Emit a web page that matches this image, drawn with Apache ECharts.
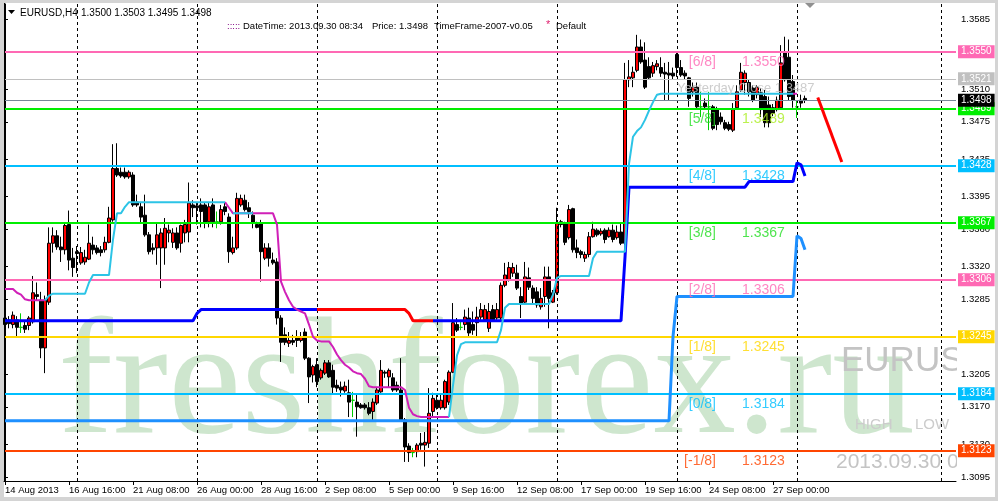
<!DOCTYPE html>
<html><head><meta charset="utf-8">
<script src="https://cdn.jsdelivr.net/npm/echarts@6/dist/echarts.min.js"></script>
<style>html,body{margin:0;padding:0;background:#fff}#c{width:998px;height:501px}</style>
</head><body><div id="c"></div>
<script>
// prices are stored in units of 0.0001 (pips)
const UNIT = 10000;
const opens = [13265,13263,13258,13263,13255,13257,13257,13261,13290,13284,
13233,13282,13345,13353,13341,13338,13365,13329,13336,13324,
13325,13328,13343,13340,13338,13338,13346,13370,13425,13421,
13421,13416,13418,13389,13384,13375,13354,13340,13340,13340,
13340,13356,13346,13356,13345,13356,13357,13386,13385,13386,
13386,13368,13386,13368,13368,13384,13373,13335,13340,13386,
13391,13383,13375,13365,13367,13329,13340,13327,13325,13265,
13247,13238,13241,13245,13241,13250,13222,13204,13215,13201,
13206,13217,13209,13193,13191,13187,13185,13177,13175,13172,
13172,13169,13165,13174,13186,13207,13202,13201,13193,13188,
13156,13128,13121,13122,13131,13129,13131,13165,13177,13169,
13169,13175,13207,13258,13255,13258,13265,13258,13260,13266,
13263,13254,13274,13265,13265,13300,13306,13313,13313,13288,
13282,13308,13297,13293,13277,13288,13309,13282,13292,13368,
13367,13351,13382,13340,13336,13329,13333,13352,13359,13355,
13359,13352,13359,13351,13357,13345,13520,13522,13530,13555,
13541,13534,13527,13534,13533,13528,13527,13527,13547,13533,
13527,13522,13507,13512,13491,13495,13491,13491,13488,13480,
13474,13472,13466,13490,13509,13517,13517,13511,13504,13506,
13502,13493,13490,13488,13490,13549,13544,13518,13491,13498,
13500];
const highs = [13268,13267,13272,13267,13270,13261,13267,13310,13303,13293,
13289,13362,13362,13359,13352,13367,13380,13340,13342,13341,
13338,13365,13352,13343,13342,13352,13384,13451,13452,13426,
13426,13423,13421,13397,13389,13397,13357,13345,13367,13361,
13372,13365,13361,13362,13365,13370,13410,13391,13389,13393,
13389,13388,13393,13379,13386,13389,13377,13352,13399,13397,
13397,13389,13379,13368,13370,13345,13345,13335,13329,13268,
13255,13250,13247,13252,13250,13254,13223,13215,13222,13211,
13220,13220,13215,13199,13197,13197,13199,13186,13183,13174,
13174,13175,13179,13191,13220,13209,13211,13206,13197,13222,
13158,13131,13126,13131,13142,13143,13190,13185,13183,13183,
13199,13209,13281,13265,13263,13274,13276,13272,13277,13281,
13279,13281,13279,13281,13303,13324,13325,13324,13322,13298,
13325,13319,13300,13298,13297,13320,13320,13295,13383,13370,
13368,13386,13383,13349,13338,13336,13357,13368,13361,13361,
13361,13362,13365,13364,13367,13538,13541,13534,13568,13563,
13560,13544,13539,13541,13544,13538,13539,13533,13549,13541,
13530,13523,13517,13517,13507,13500,13507,13493,13491,13485,
13477,13475,13495,13514,13538,13530,13520,13514,13514,13511,
13509,13502,13494,13502,13557,13566,13563,13525,13498,13504,
13503];
const lows = [13254,13254,13254,13244,13249,13249,13252,13259,13284,13222,
13206,13279,13335,13338,13325,13333,13316,13309,13313,13322,
13322,13327,13333,13333,13331,13335,13345,13368,13416,13415,
13414,13414,13384,13384,13367,13352,13333,13333,13322,13297,
13322,13346,13340,13338,13335,13346,13346,13373,13365,13362,
13361,13362,13362,13361,13365,13375,13324,13333,13338,13384,
13379,13372,13361,13361,13304,13327,13320,13322,13258,13218,
13236,13234,13236,13234,13239,13220,13174,13196,13191,13199,
13204,13201,13183,13186,13181,13185,13159,13159,13138,13168,
13167,13161,13156,13172,13185,13201,13191,13186,13186,13154,
13111,13111,13116,13116,13124,13106,13126,13159,13167,13167,
13167,13172,13206,13250,13252,13252,13245,13247,13245,13263,
13261,13250,13261,13263,13263,13298,13304,13309,13295,13265,
13281,13295,13279,13276,13274,13277,13254,13281,13290,13362,
13343,13349,13335,13329,13329,13325,13330,13351,13352,13353,
13345,13351,13346,13349,13343,13343,13512,13512,13528,13537,
13510,13520,13523,13530,13523,13498,13498,13520,13523,13523,
13520,13491,13502,13488,13480,13488,13466,13466,13466,13472,
13466,13465,13464,13488,13507,13504,13502,13496,13500,13480,
13469,13469,13481,13486,13488,13518,13498,13490,13479,13490,
13495];
const closes = [13258,13259,13268,13255,13255,13253,13265,13292,13288,13233,
13284,13345,13353,13341,13338,13364,13327,13319,13334,13335,
13330,13345,13338,13335,13335,13346,13372,13425,13418,13417,
13416,13421,13386,13386,13373,13354,13336,13338,13354,13356,
13361,13359,13356,13340,13364,13365,13388,13383,13383,13379,
13367,13384,13368,13368,13381,13379,13336,13340,13393,13393,
13381,13379,13367,13362,13336,13340,13329,13324,13265,13239,
13239,13241,13239,13241,13245,13222,13202,13213,13197,13209,
13217,13202,13191,13190,13188,13192,13175,13177,13170,13169,
13169,13163,13175,13188,13209,13206,13209,13188,13188,13156,
13127,13121,13121,13129,13129,13132,13163,13179,13169,13177,
13197,13207,13260,13252,13255,13266,13249,13252,13266,13274,
13274,13272,13263,13274,13300,13311,13319,13319,13297,13281,
13309,13298,13286,13279,13286,13309,13286,13292,13367,13365,
13346,13381,13338,13335,13333,13333,13352,13360,13354,13358,
13349,13359,13349,13357,13345,13520,13523,13528,13555,13539,
13512,13522,13535,13537,13527,13526,13525,13524,13533,13525,
13524,13500,13512,13491,13491,13491,13491,13468,13472,13475,
13468,13467,13488,13507,13528,13527,13507,13498,13512,13488,
13474,13474,13484,13498,13538,13520,13502,13498,13491,13495,
13498];

// x-axis ticks (bar index) and their labels
const xTickBars = [0,16,32,48,64,80,96,112,128,144,160,176,192];
const xTickLabels = ['14 Aug 2013','16 Aug 16:00','21 Aug 08:00','26 Aug 00:00','28 Aug 16:00','2 Sep 08:00','5 Sep 00:00','9 Sep 16:00','12 Sep 08:00','17 Sep 00:00','19 Sep 16:00','24 Sep 08:00','27 Sep 00:00'];
const yTicks = [1.3095,1.3130,1.3170,1.3205,1.3245,1.3285,1.3320,1.3360,1.3395,1.3435,1.3475,1.3510,1.3550,1.3585];
const gridBars = [18,48,78,108,138,168,198,234];

// Murrey Math levels
const murreyNames = ['[-1/8]','[0/8]','[1/8]','[2/8]','[3/8]','[4/8]','[5/8]','[6/8]'];
const murreyLevels = [1.3123,1.3184,1.3245,1.3306,1.3367,1.3428,1.3489,1.3550];
const yesterdayLevel = 1.3521;
const bidPrice = 1.3498;

// indicator lines: [bar index, price in pips]
const trendBlue = [[0,13262],[47,13262],[48,13270],[49,13274],[78,13274],[90,null],[107,13262],[154,13262],[155,13330],[156,13405],[185,13405],[186,13411],[197,13411],[198,13431],[199,13429],[200,13417]];
const trendRed = [[78,13274],[100,13274],[101,13270],[102,13262],[107,13262]];
const trendDodger = [[0,13155],[166,13155],[167,13245],[168,13288],[197,13288],[198,13353],[199,13350],[200,13338]];
const trailUp = [[10,13284],[11,13289],[12,13291],[20,13291],[21,13303],[22,13311],[26,13311],[27,13349],[28,13377],[29,13377],[30,13384],[31,13389],[55,13389],[56,null],
[57,13377],[62,13377],[80,null],
[111,13159],[112,13193],[113,13225],[114,13237],[115,13239],[123,13239],[124,13252],[125,13276],[126,13280],[136,13280],[137,13290],[138,13308],[139,13310],[146,13310],[147,13329],[148,13336],[155,13336],[156,13430],[157,13459],[158,13465],[159,13469],[160,13477],[161,13487],[162,13496],[163,13504],[164,13505],[197,13505]];
const trailDn = [[0,13296],[2,13296],[3,13292],[4,13290],[5,13285],[6,13284],[10,13284],[30,null],
[55,13389],[56,13383],[57,13377],[67,13377],[68,13365],[69,13304],[70,13293],[71,13284],[72,13277],[73,13274],[74,13272],[75,13270],[76,13258],[77,13245],[78,13241],[79,13240],[81,13240],[82,13234],[83,13226],[84,13220],[85,13215],[86,13212],[87,13208],[88,13206],[89,13205],[90,13200],[91,13192],[92,13191],[99,13191],[100,13188],[101,13169],[102,13162],[103,13160],[104,13159],[111,13159],[150,null],
[197,13505],[198,13505]];
const projection = [[203.2,13501],[209.2,13432]];

const murreyLineColors = ['#ff4500','#00bfff','#ffd700','#ff69b4','#00ee00','#00bfff','#00ee00','#ff69b4'];
const murreyNameColors = ['#ff4500','#00bfff','#ffd700','#ff69b4','#22dd22','#00bfff','#22dd22','#ff69b4'];
const murreyNumColors = ['#ff4500','#00bfff','#ffd700','#ff69b4','#22dd22','#00bfff','#aaee22','#ff69b4'];

const SANS = 'Liberation Sans';
const toPts = arr => arr.map(p => [p[0], p[1] == null ? '-' : p[1] / UNIT]);

const chart = echarts.init(document.getElementById('c'), null, {renderer: 'canvas'});

const candleData = opens.map((o, i) => [i, o / UNIT, closes[i] / UNIT, lows[i] / UNIT, highs[i] / UNIT]);

const hLines = murreyLevels.map((v, k) => ({
  yAxis: v,
  lineStyle: {color: murreyLineColors[k], width: 2, type: 'solid'},
  label: {backgroundColor: murreyLineColors[k]}
}));
hLines.push({yAxis: yesterdayLevel, lineStyle: {color: '#c0c0c0', width: 1, type: 'solid'}, label: {backgroundColor: '#c0c0c0'}});
hLines.push({yAxis: bidPrice, lineStyle: {color: '#778899', width: 1, type: 'solid'}, label: {backgroundColor: '#000000'}});

const option = {
  animation: false,
  backgroundColor: '#ffffff',
  textStyle: {fontFamily: SANS},
  grid: {left: 4, right: 42, top: 4, bottom: 20, containLabel: false},
  xAxis: {
    type: 'value', min: -0.25, max: 237.75,
    axisLine: {show: true, lineStyle: {color: '#000', width: 1}},
    axisTick: {show: true, customValues: xTickBars, length: 4, inside: false, lineStyle: {color: '#000'}},
    axisLabel: {show: true, customValues: xTickBars, align: 'left', margin: 4, fontSize: 9.5, color: '#000', fontFamily: SANS,
      formatter: v => { const k = xTickBars.indexOf(Math.round(v)); return k >= 0 ? xTickLabels[k] : ''; }},
    splitLine: {show: false}
  },
  yAxis: {
    type: 'value', position: 'right', min: 1.30906, max: 1.3601, scale: true,
    axisLine: {show: true, lineStyle: {color: '#000', width: 1}},
    axisTick: {show: true, customValues: yTicks, length: 3, lineStyle: {color: '#000'}},
    axisLabel: {show: true, customValues: yTicks, margin: 5, fontSize: 9.5, color: '#000', fontFamily: SANS,
      formatter: v => v.toFixed(4)},
    splitLine: {show: false}
  },
  series: [
    { // vertical grid
      type: 'line', data: [], silent: true, z: 1,
      markLine: {silent: true, symbol: ['none', 'none'], animation: false, precision: 4,
        lineStyle: {color: '#000', width: 1, type: [3, 3]}, label: {show: false},
        data: gridBars.map(b => ({xAxis: b}))}
    },
    {
      type: 'candlestick', data: candleData, barWidth: 3, silent: true, z: 2,
      itemStyle: {color: '#ff0000', color0: '#000000', borderColor: '#000000', borderColor0: '#000000', borderColorDoji: '#00cc00', borderWidth: 1}
    },
    { // Murrey / price lines
      type: 'line', data: [], silent: true, z: 3,
      markLine: {silent: true, symbol: ['none', 'none'], animation: false, precision: 4,
        label: {show: true, position: 'end', distance: 2, color: '#fff', fontSize: 10, fontFamily: SANS,
          padding: [2, 3, 1, 3], formatter: p => Number(p.value).toFixed(4)},
        data: hLines}
    },
    { type: 'line', data: toPts(trendBlue), symbol: 'none', z: 5, silent: true, lineStyle: {color: '#0000ff', width: 3}, connectNulls: false },
    { type: 'line', data: toPts(trendRed), symbol: 'none', z: 5, silent: true, lineStyle: {color: '#ff0000', width: 3} },
    { type: 'line', data: toPts(trendDodger), symbol: 'none', z: 5, silent: true, lineStyle: {color: '#1e90ff', width: 3} },
    { type: 'line', data: toPts(trailDn), symbol: 'none', z: 5, silent: true, lineStyle: {color: '#d020b8', width: 2} },
    { type: 'line', data: toPts(trailUp), symbol: 'none', z: 5, silent: true, lineStyle: {color: '#2cc4e6', width: 2} },
    { type: 'line', data: toPts(projection), symbol: 'none', z: 5, silent: true, lineStyle: {color: '#ff0000', width: 3} },
    { // Murrey names
      type: 'scatter', symbolSize: 0, silent: true, z: 6,
      data: murreyLevels.map((v, k) => ({value: [177.75, v], label: {formatter: murreyNames[k], color: murreyNameColors[k]}})),
      label: {show: true, position: 'left', distance: 0, offset: [0, 10], fontSize: 14, fontFamily: SANS}
    },
    { // Murrey values
      type: 'scatter', symbolSize: 0, silent: true, z: 6,
      data: murreyLevels.map((v, k) => ({value: [184.25, v], label: {formatter: v.toFixed(4), color: murreyNumColors[k]}})),
      label: {show: true, position: 'right', distance: 0, offset: [0, 10], fontSize: 14, fontFamily: SANS}
    },
    { // yesterday close caption
      type: 'scatter', symbolSize: 0, silent: true, z: 6,
      data: [{value: [168, yesterdayLevel]}],
      label: {show: true, position: 'right', distance: 0, offset: [0, 10], fontSize: 13, fontFamily: SANS, color: '#c0c0c0',
        formatter: 'Yesterday Close 1.3487'}
    }
  ],
  graphic: {elements: [
    // watermark
    {type: 'text', z: -3, silent: true, style: {text: 'freshforex.ru', x: 58, y: 389, font: '165px "Liberation Serif"', fill: 'rgba(125,190,125,0.38)', textVerticalAlign: 'middle', shadowBlur: 6, shadowColor: 'rgba(0,0,0,0.12)', shadowOffsetX: 3, shadowOffsetY: 3}},
    {type: 'text', z: -3, silent: true, style: {text: 'EURUSD', x: 841, y: 361, font: '35px "Liberation Sans"', fill: '#c4c4c4', textVerticalAlign: 'middle'}},
    {type: 'text', z: -3, silent: true, style: {text: 'HIGH', x: 855, y: 425, font: '15px "Liberation Sans"', fill: '#cccccc', textVerticalAlign: 'middle'}},
    {type: 'text', z: -3, silent: true, style: {text: 'LOW', x: 915, y: 425, font: '15px "Liberation Sans"', fill: '#cccccc', textVerticalAlign: 'middle'}},
    {type: 'text', z: -3, silent: true, style: {text: '2013.09.30 08:34', x: 836, y: 462, font: '21px "Liberation Sans"', fill: '#c4c4c4', textVerticalAlign: 'middle'}},
    // mask right of plot
    {type: 'rect', z: -2, silent: true, shape: {x: 957, y: 300, width: 38, height: 180}, style: {fill: '#ffffff'}},
    // window frame
    {type: 'rect', z: -1, silent: true, shape: {x: 0, y: 0, width: 998, height: 3}, style: {fill: '#d4d4d4'}},
    {type: 'rect', z: -1, silent: true, shape: {x: 0, y: 0, width: 4, height: 501}, style: {fill: '#d4d4d4'}},
    {type: 'rect', z: -1, silent: true, shape: {x: 0, y: 497, width: 998, height: 4}, style: {fill: '#d4d4d4'}},
    {type: 'rect', z: -1, silent: true, shape: {x: 995, y: 0, width: 3, height: 501}, style: {fill: '#d4d4d4'}},
    {type: 'line', z: 10, silent: true, shape: {x1: 4.5, y1: 3, x2: 4.5, y2: 481}, style: {stroke: '#000', lineWidth: 1}},
    // shift marker
    {type: 'polygon', z: 10, silent: true, shape: {points: [[805, 3], [815, 3], [810, 8]]}, style: {fill: '#909090'}},
    // header
    {type: 'polygon', z: 10, silent: true, shape: {points: [[8, 10], [15, 10], [11.5, 14]]}, style: {fill: '#000'}},
    {type: 'text', z: 10, silent: true, style: {text: 'EURUSD,H4', x: 20, y: 13, font: '10px "Liberation Sans"', fill: '#000', textVerticalAlign: 'middle'}},
    {type: 'text', z: 10, silent: true, style: {text: '1.3500 1.3503 1.3495 1.3498', x: 81, y: 13, font: '10px "Liberation Sans"', fill: '#000', textVerticalAlign: 'middle'}},
    {type: 'text', z: 10, silent: true, style: {text: ':::::', x: 227, y: 26, font: '9.5px "Liberation Sans"', fill: '#800080', textVerticalAlign: 'middle'}},
    {type: 'text', z: 10, silent: true, style: {text: 'DateTime: 2013.09.30 08:34', x: 243, y: 26, font: '9.5px "Liberation Sans"', fill: '#000', textVerticalAlign: 'middle'}},
    {type: 'text', z: 10, silent: true, style: {text: 'Price: 1.3498', x: 372, y: 26, font: '9.5px "Liberation Sans"', fill: '#000', textVerticalAlign: 'middle'}},
    {type: 'text', z: 10, silent: true, style: {text: 'TimeFrame-2007-v0.05', x: 434, y: 26, font: '9.5px "Liberation Sans"', fill: '#000', textVerticalAlign: 'middle'}},
    {type: 'text', z: 10, silent: true, style: {text: '*', x: 546, y: 25, font: '11px "Liberation Sans"', fill: '#e0206f', textVerticalAlign: 'middle'}},
    {type: 'text', z: 10, silent: true, style: {text: 'Default', x: 556, y: 26, font: '9.5px "Liberation Sans"', fill: '#000', textVerticalAlign: 'middle'}}
  ]}
};
chart.setOption(option);
</script>
</body></html>
